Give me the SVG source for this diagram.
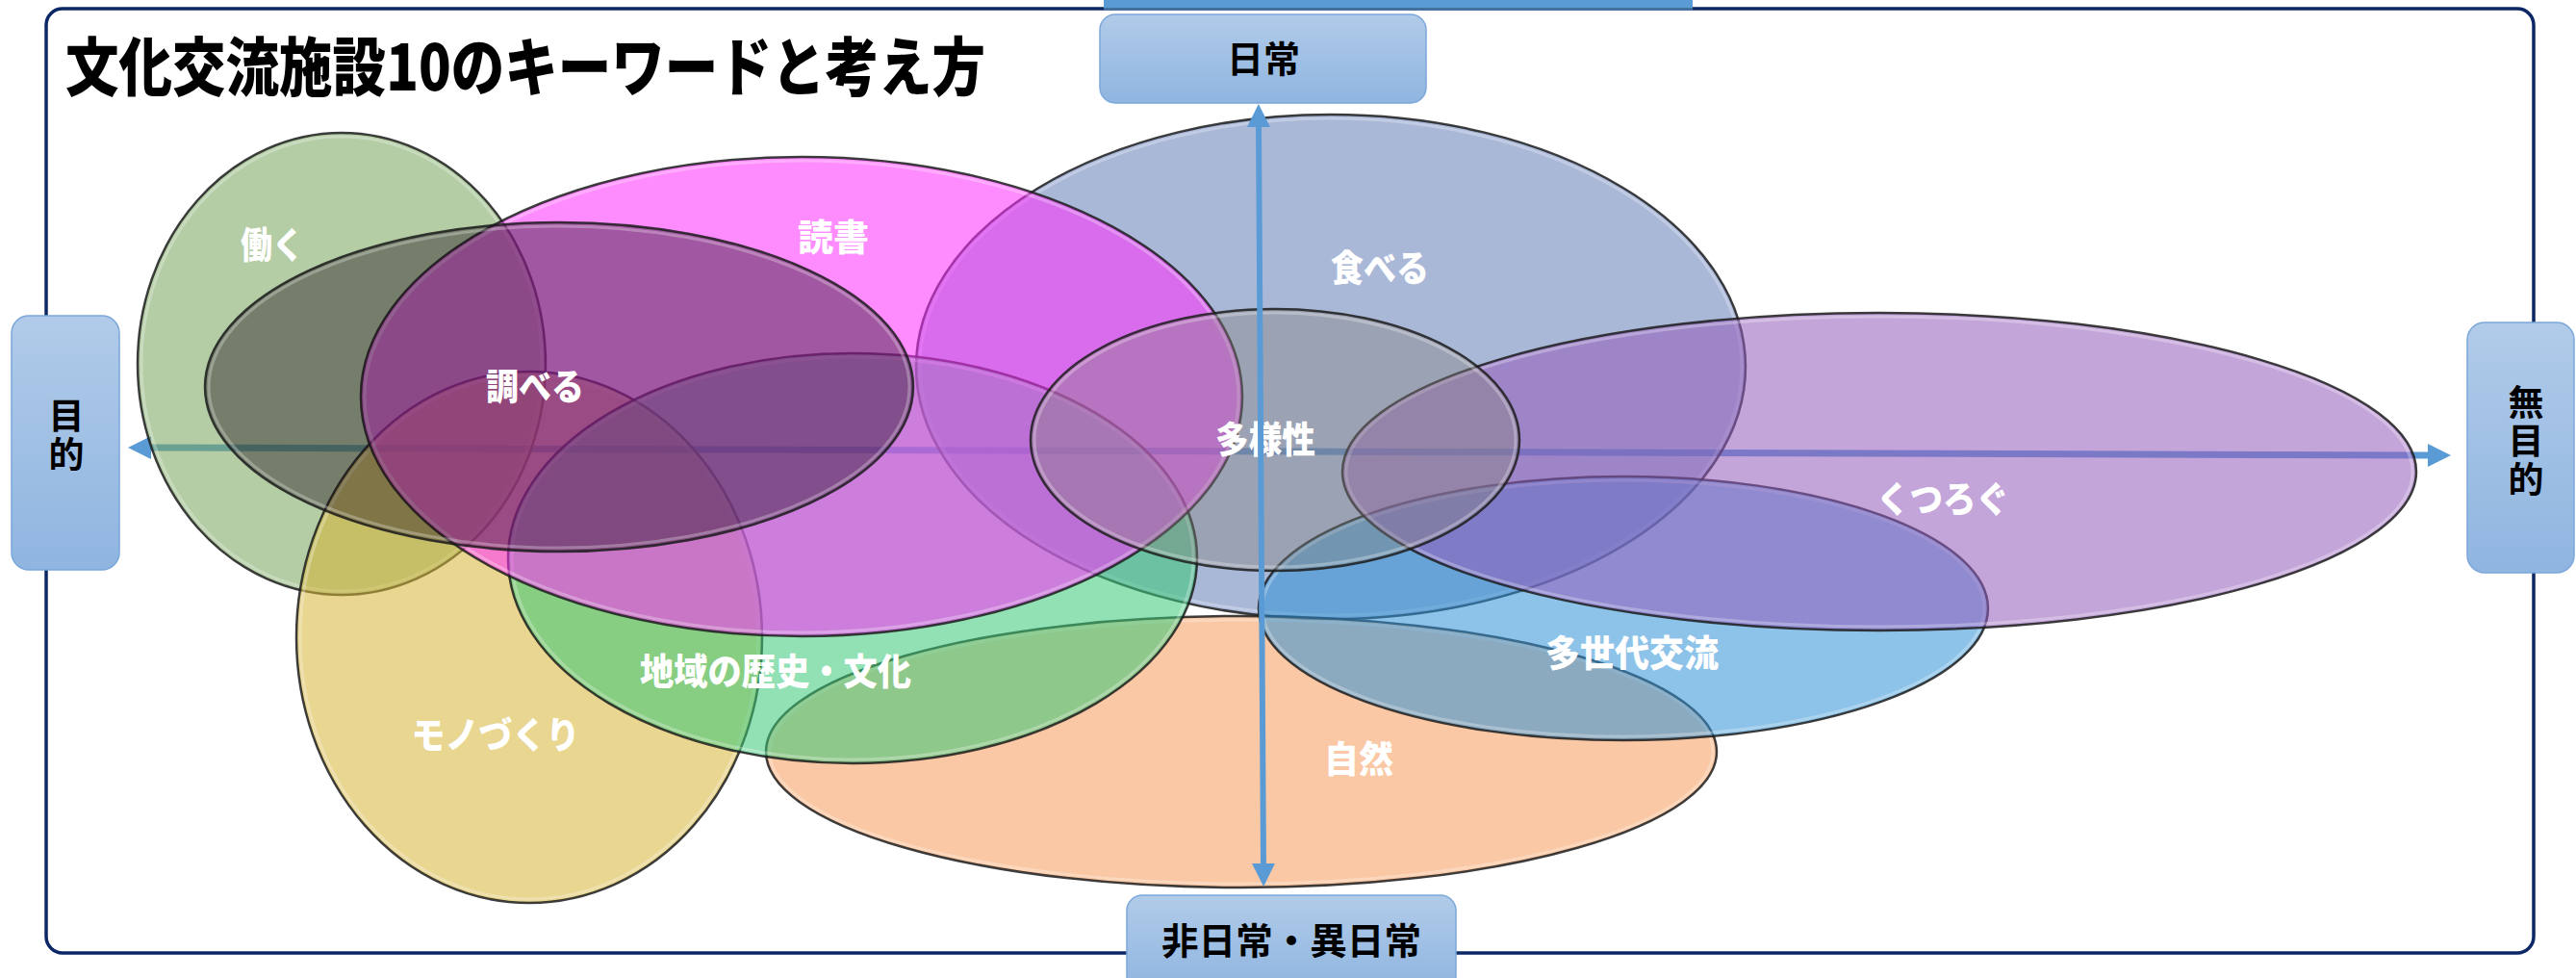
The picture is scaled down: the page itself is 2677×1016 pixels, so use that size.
<svg xmlns="http://www.w3.org/2000/svg" width="2677" height="1016" viewBox="0 0 2677 1016">
  <defs>
    <linearGradient id="boxGrad" x1="0" y1="0" x2="0" y2="1">
      <stop offset="0" stop-color="#b1cbe9"/>
      <stop offset="1" stop-color="#8fb5e0"/>
    </linearGradient>
    <marker id="arrowHead" markerWidth="24" markerHeight="24" refX="2" refY="12" orient="auto-start-reverse" markerUnits="userSpaceOnUse">
      <path d="M0,0 L24,12 L0,24 z" fill="#5b9bd5"/>
    </marker>
  </defs>
  <style>
    .frame { fill: #ffffff; stroke: #0b2765; stroke-width: 3.5; }
    .axisbox { fill: url(#boxGrad); stroke: #7ba7da; stroke-width: 1.5; }
    .axistext { font-family: "Noto Sans CJK JP", "Noto Sans", sans-serif; font-weight: 700; font-size: 38px; fill: #000000; text-anchor: middle; }
    .vtext { font-family: "Noto Sans CJK JP", "Noto Sans", sans-serif; font-weight: 700; font-size: 37px; fill: #000000; text-anchor: middle; writing-mode: vertical-rl; letter-spacing: 3px; }
    .title { font-family: "Noto Sans CJK JP", "Noto Sans", sans-serif; font-weight: 900; font-size: 66px; fill: #000000; }
    .ell { stroke: #1c1c1c; stroke-width: 2.5; stroke-opacity: 0.85; }
    .rim { fill: none; stroke: #ffffff; stroke-width: 3; stroke-opacity: 0.28; }
    .lbl { font-family: "Noto Sans CJK JP", "Noto Sans", sans-serif; font-weight: 900; font-size: 38px; fill: #ffffff; text-anchor: middle; }
    .axis { stroke: #5b9bd5; fill: none; }
  </style>

  <rect class="frame" x="48" y="9" width="2585" height="981" rx="17"/>
  <rect x="1147" y="0" width="612" height="9" fill="#5b9bd5"/>
  <rect x="1147" y="8" width="612" height="3" fill="#41719c"/>

  <text class="title" x="68" y="94" textLength="956" lengthAdjust="spacingAndGlyphs">文化交流施設10のキーワードと考え方</text>

  <g id="connectors-horizontal">
    <line class="axis" x1="155" y1="465" x2="2525" y2="473" stroke-width="7" marker-start="url(#arrowHead)" marker-end="url(#arrowHead)"/>
  </g>

  <g id="node-taberu">
    <ellipse class="ell" cx="1383" cy="381" rx="431" ry="262" fill="#647eb8" fill-opacity="0.55"/>
    <ellipse class="rim" cx="1383" cy="381" rx="427" ry="258"/>
    <text class="lbl" x="1434" y="292" textLength="102" lengthAdjust="spacingAndGlyphs">食べる</text>
  </g>
  <g id="node-shizen">
    <ellipse class="ell" cx="1290" cy="781" rx="494" ry="141" fill="#f69b5b" fill-opacity="0.55"/>
    <ellipse class="rim" cx="1290" cy="781" rx="490" ry="137"/>
    <text class="lbl" x="1412" y="802" textLength="72" lengthAdjust="spacingAndGlyphs">自然</text>
  </g>
  <g id="node-hataraku">
    <ellipse class="ell" cx="355" cy="378" rx="212" ry="240" fill="#77a45b" fill-opacity="0.55"/>
    <ellipse class="rim" cx="355" cy="378" rx="208" ry="236"/>
    <text class="lbl" x="283" y="268" textLength="66" lengthAdjust="spacingAndGlyphs">働く</text>
  </g>
  <g id="node-monozukuri">
    <ellipse class="ell" cx="550" cy="662" rx="242" ry="276" fill="#d5b537" fill-opacity="0.55"/>
    <ellipse class="rim" cx="550" cy="662" rx="238" ry="272"/>
    <text class="lbl" x="515" y="777" textLength="175" lengthAdjust="spacingAndGlyphs">モノづくり</text>
  </g>
  <g id="node-chiiki">
    <ellipse class="ell" cx="886" cy="580" rx="358" ry="213" fill="#37c876" fill-opacity="0.55"/>
    <ellipse class="rim" cx="886" cy="580" rx="354" ry="209"/>
    <text class="lbl" x="806" y="711" textLength="282" lengthAdjust="spacingAndGlyphs">地域の歴史・文化</text>
  </g>
  <g id="node-tasedai">
    <ellipse class="ell" cx="1687" cy="632" rx="379" ry="137" fill="#3092d5" fill-opacity="0.55"/>
    <ellipse class="rim" cx="1687" cy="632" rx="375" ry="133"/>
    <text class="lbl" x="1696" y="692" textLength="180" lengthAdjust="spacingAndGlyphs">多世代交流</text>
  </g>
  <g id="node-kutsurogu">
    <ellipse class="ell" cx="1953" cy="490" rx="558" ry="165" fill="#945bbc" fill-opacity="0.55"/>
    <ellipse class="rim" cx="1953" cy="490" rx="554" ry="161"/>
    <text class="lbl" x="2019" y="532" textLength="138" lengthAdjust="spacingAndGlyphs">くつろぐ</text>
  </g>
  <g id="node-dokusho">
    <ellipse class="ell" cx="833" cy="412" rx="458" ry="249" fill="#ff2eff" fill-opacity="0.55"/>
    <ellipse class="rim" cx="833" cy="412" rx="454" ry="245"/>
    <text class="lbl" x="866" y="260" textLength="74" lengthAdjust="spacingAndGlyphs">読書</text>
  </g>
  <g id="node-shiraberu">
    <ellipse class="ell" cx="581" cy="402" rx="368" ry="171" fill="#140814" fill-opacity="0.4"/>
    <ellipse class="rim" cx="581" cy="402" rx="364" ry="167"/>
    <text class="lbl" x="556" y="415" textLength="102" lengthAdjust="spacingAndGlyphs">調べる</text>
  </g>
  <g id="node-tayousei">
    <ellipse class="ell" cx="1325" cy="457" rx="254" ry="136" fill="#84837e" fill-opacity="0.4"/>
    <ellipse class="rim" cx="1325" cy="457" rx="250" ry="132"/>
    <text class="lbl" x="1315" y="470" textLength="104" lengthAdjust="spacingAndGlyphs">多様性</text>
  </g>

  <g id="connectors-vertical">
    <line class="axis" x1="1308" y1="130" x2="1313" y2="899" stroke-width="6" marker-start="url(#arrowHead)" marker-end="url(#arrowHead)"/>
  </g>

  <g id="node-nichijou">
    <rect class="axisbox" x="1143" y="15" width="339" height="92" rx="16"/>
    <text class="axistext" x="1313" y="75">日常</text>
  </g>
  <g id="node-mokuteki">
    <rect class="axisbox" x="12" y="328" width="112" height="264" rx="18"/>
    <text class="vtext" x="69" y="453">目的</text>
  </g>
  <g id="node-mumokuteki">
    <rect class="axisbox" x="2564" y="335" width="111" height="260" rx="18"/>
    <text class="vtext" x="2625" y="459">無目的</text>
  </g>
  <g id="node-hinichijou">
    <rect class="axisbox" x="1171" y="930" width="342" height="100" rx="16"/>
    <text class="axistext" x="1342" y="991" textLength="270" lengthAdjust="spacingAndGlyphs">非日常・異日常</text>
  </g>
</svg>
